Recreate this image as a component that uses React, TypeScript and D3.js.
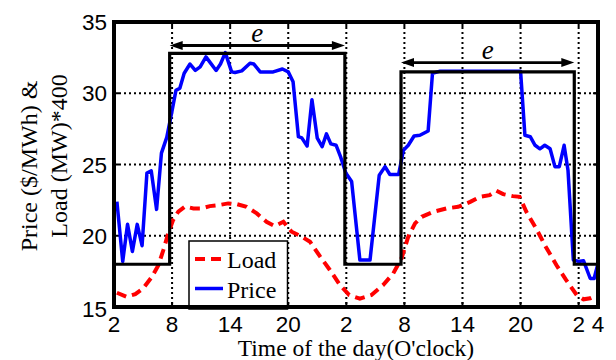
import React from "react";
import * as d3 from "d3";

const xTickValues = [2, 8, 14, 20, 26, 32, 38, 44, 50, 52];
const xTickLabels = ["2", "8", "14", "20", "2", "8", "14", "20", "2", "4"];
const yTickValues = [15, 20, 25, 30, 35];

const priceHours = [2.3, 2.9, 3.4, 3.9, 4.4, 4.9, 5.4, 5.85, 6.4, 6.9, 7.45, 7.95, 8.4, 8.8, 9.25, 9.85, 10.4, 10.9, 11.5, 12.0, 12.55, 13.0, 13.5, 14.15, 14.5, 15.2, 16.05, 16.45, 17.1, 18.45, 19.4, 20.0, 20.5, 21.05, 21.4, 21.95, 22.45, 23.0, 23.5, 23.95, 24.4, 24.95, 25.4, 25.95, 26.55, 27.4, 28.45, 29.4, 30.0, 30.5, 31.4, 31.9, 32.4, 33.0, 33.6, 34.45, 34.9, 35.7, 44.0, 44.45, 45.0, 45.5, 46.0, 46.5, 47.05, 47.55, 48.0, 48.5, 48.9, 49.45, 50.0, 50.5, 51.2, 51.6, 52.0];
const priceValues = [22.4, 18.2, 20.8, 18.9, 20.8, 19.3, 24.4, 24.55, 21.85, 25.8, 26.9, 28.6, 30.2, 30.35, 31.4, 32.05, 31.6, 31.85, 32.55, 32.1, 31.6, 32.05, 32.85, 31.5, 31.46, 31.57, 32.1, 32.05, 31.5, 31.5, 31.7, 31.5, 30.8, 26.95, 26.87, 26.3, 29.55, 26.85, 26.25, 27.15, 26.45, 26.35, 25.55, 24.4, 23.8, 18.3, 18.3, 24.25, 24.85, 24.3, 24.3, 26.0, 26.35, 27.0, 27.05, 27.35, 31.4, 31.55, 31.55, 27.05, 26.95, 26.35, 26.1, 26.35, 26.1, 24.85, 24.85, 26.35, 24.6, 18.3, 18.2, 18.25, 17.0, 17.0, 18.05];

const loadHours = [2.3, 3.3, 4.2, 5.0, 5.9, 6.6, 7.1, 7.6, 8.1, 8.65, 9.35, 10.2, 11.05, 11.9, 12.8, 13.8, 14.7, 15.7, 16.75, 17.75, 18.6, 19.5, 20.35, 21.4, 22.25, 23.3, 24.3, 25.35, 26.3, 27.4, 28.6, 29.8, 30.85, 31.7, 32.4, 33.1, 33.8, 35.0, 36.35, 37.55, 38.8, 39.8, 40.8, 41.5, 42.2, 43.2, 43.9, 44.6, 45.6, 46.6, 47.7, 48.7, 49.8, 50.5, 51.2, 52.0];
const loadValues = [16.0, 15.72, 15.9, 16.3, 17.1, 17.95, 19.0, 20.15, 21.1, 21.7, 22.05, 21.92, 21.92, 22.08, 22.15, 22.27, 22.22, 22.03, 21.57, 20.98, 20.68, 20.98, 20.28, 19.93, 19.58, 18.53, 17.6, 16.54, 15.84, 15.58, 15.84, 16.54, 17.36, 18.41, 19.93, 20.87, 21.33, 21.68, 21.92, 22.03, 22.38, 22.73, 22.85, 23.16, 22.92, 22.78, 22.73, 21.68, 20.52, 19.23, 17.95, 16.9, 15.84, 15.54, 15.61, 15.84];

const stepHours = [2, 7.75, 7.75, 25.85, 25.85, 31.65, 31.65, 49.55, 49.55, 52];
const stepValues = [18, 18, 32.8, 32.8, 18, 18, 31.5, 31.5, 18, 18];

const arrowStarts = [7.75, 31.65];
const arrowEnds = [25.85, 49.55];
const arrowLevels = [33.35, 32.15];
const arrowLabelLevels = [33.6, 32.4];

const L = 114, R = 598, T = 22, B = 307;

export default function App() {
  const x = d3.scaleLinear().domain([2, 52]).range([L, R]);
  const y = d3.scaleLinear().domain([15, 35]).range([B, T]);
  const line = d3.line<[number, number]>().x((d) => x(d[0])).y((d) => y(d[1]));

  const price = priceHours.map((h, i) => [h, priceValues[i]] as [number, number]);
  const load = loadHours.map((h, i) => [h, loadValues[i]] as [number, number]);
  const step = stepHours.map((h, i) => [h, stepValues[i]] as [number, number]);

  const gridX = xTickValues.filter((v) => v > 2 && v < 52);
  const gridY = yTickValues.filter((v) => v > 15 && v < 35);

  const tickFont = "'Liberation Sans', Arial, sans-serif";
  const serif = "'Liberation Serif', 'Times New Roman', serif";

  return (
    <svg width={616} height={360} style={{ position: "absolute", left: 0, top: 0, background: "#fff" }}>
      <rect x={0} y={0} width={616} height={360} fill="#fff" />
      {/* grid */}
      {gridX.map((v) => (
        <line key={"gx" + v} x1={x(v)} x2={x(v)} y1={T} y2={B} stroke="#000" strokeWidth={2} strokeDasharray="2,3" />
      ))}
      {gridY.map((v) => (
        <line key={"gy" + v} x1={L} x2={R} y1={y(v)} y2={y(v)} stroke="#000" strokeWidth={2} strokeDasharray="2,3" />
      ))}
      {/* ticks inward */}
      {xTickValues.map((v) => (
        <g key={"tx" + v}>
          <line x1={x(v)} x2={x(v)} y1={B} y2={B - 5} stroke="#000" strokeWidth={2} />
          <line x1={x(v)} x2={x(v)} y1={T} y2={T + 5} stroke="#000" strokeWidth={2} />
        </g>
      ))}
      {yTickValues.map((v) => (
        <g key={"ty" + v}>
          <line x1={L} x2={L + 5} y1={y(v)} y2={y(v)} stroke="#000" strokeWidth={2} />
          <line x1={R} x2={R - 5} y1={y(v)} y2={y(v)} stroke="#000" strokeWidth={2} />
        </g>
      ))}
      {/* load */}
      <path d={line(load) || ""} fill="none" stroke="#ff0000" strokeWidth={4} strokeDasharray="10,6" />
      {/* price */}
      <path d={line(price) || ""} fill="none" stroke="#0000ff" strokeWidth={3.5} strokeLinejoin="round" />
      {/* step */}
      <path d={line(step) || ""} fill="none" stroke="#000" strokeWidth={3.2} />
      {/* arrows */}
      {arrowStarts.map((s, i) => {
        const x1 = x(s), x2 = x(arrowEnds[i]), yy = y(arrowLevels[i]);
        const hl = 13, hw = 4.5;
        return (
          <g key={"ar" + i}>
            <line x1={x1 + hl - 2} x2={x2 - hl + 2} y1={yy} y2={yy} stroke="#000" strokeWidth={2.8} />
            <path d={`M${x1},${yy} L${x1 + hl},${yy - hw} L${x1 + hl},${yy + hw} Z`} fill="#000" />
            <path d={`M${x2},${yy} L${x2 - hl},${yy - hw} L${x2 - hl},${yy + hw} Z`} fill="#000" />
            <text x={(x1 + x2) / 2} y={y(arrowLabelLevels[i])} textAnchor="middle" fontFamily={serif} fontStyle="italic" fontSize={27}>e</text>
          </g>
        );
      })}
      {/* legend */}
      <rect x={189} y={241} width={98.5} height={68} fill="#fff" stroke="#000" strokeWidth={1.5} />
      <line x1={195} x2={223} y1={259} y2={259} stroke="#ff0000" strokeWidth={4} strokeDasharray="10,6" />
      <text x={227} y={267.5} fontFamily={serif} fontSize={24}>Load</text>
      <line x1={195} x2={223} y1={288.5} y2={288.5} stroke="#0000ff" strokeWidth={3.5} />
      <text x={227} y={297.5} fontFamily={serif} fontSize={24}>Price</text>
      {/* frame */}
      <rect x={L} y={T} width={R - L} height={B - T} fill="none" stroke="#000" strokeWidth={4} />
      {/* tick labels */}
      {yTickValues.map((v) => (
        <text key={"ly" + v} x={107} y={y(v) + (v === 15 ? 10 : 8)} textAnchor="end" fontFamily={tickFont} fontSize={22.5}>{v}</text>
      ))}
      {xTickValues.map((v, i) => (
        <text key={"lx" + v} x={x(v)} y={332} textAnchor="middle" fontFamily={tickFont} fontSize={22.5}>{xTickLabels[i]}</text>
      ))}
      {/* axis titles */}
      <text x={356} y={356} textAnchor="middle" fontFamily={serif} fontSize={23.5}>Time of the day(O'clock)</text>
      <text transform="translate(37,166) rotate(-90)" textAnchor="middle" fontFamily={serif} fontSize={24}>Price ($/MWh) &amp;</text>
      <text transform="translate(67,156) rotate(-90)" textAnchor="middle" fontFamily={serif} fontSize={24}>Load (MW)*400</text>
    </svg>
  );
}
